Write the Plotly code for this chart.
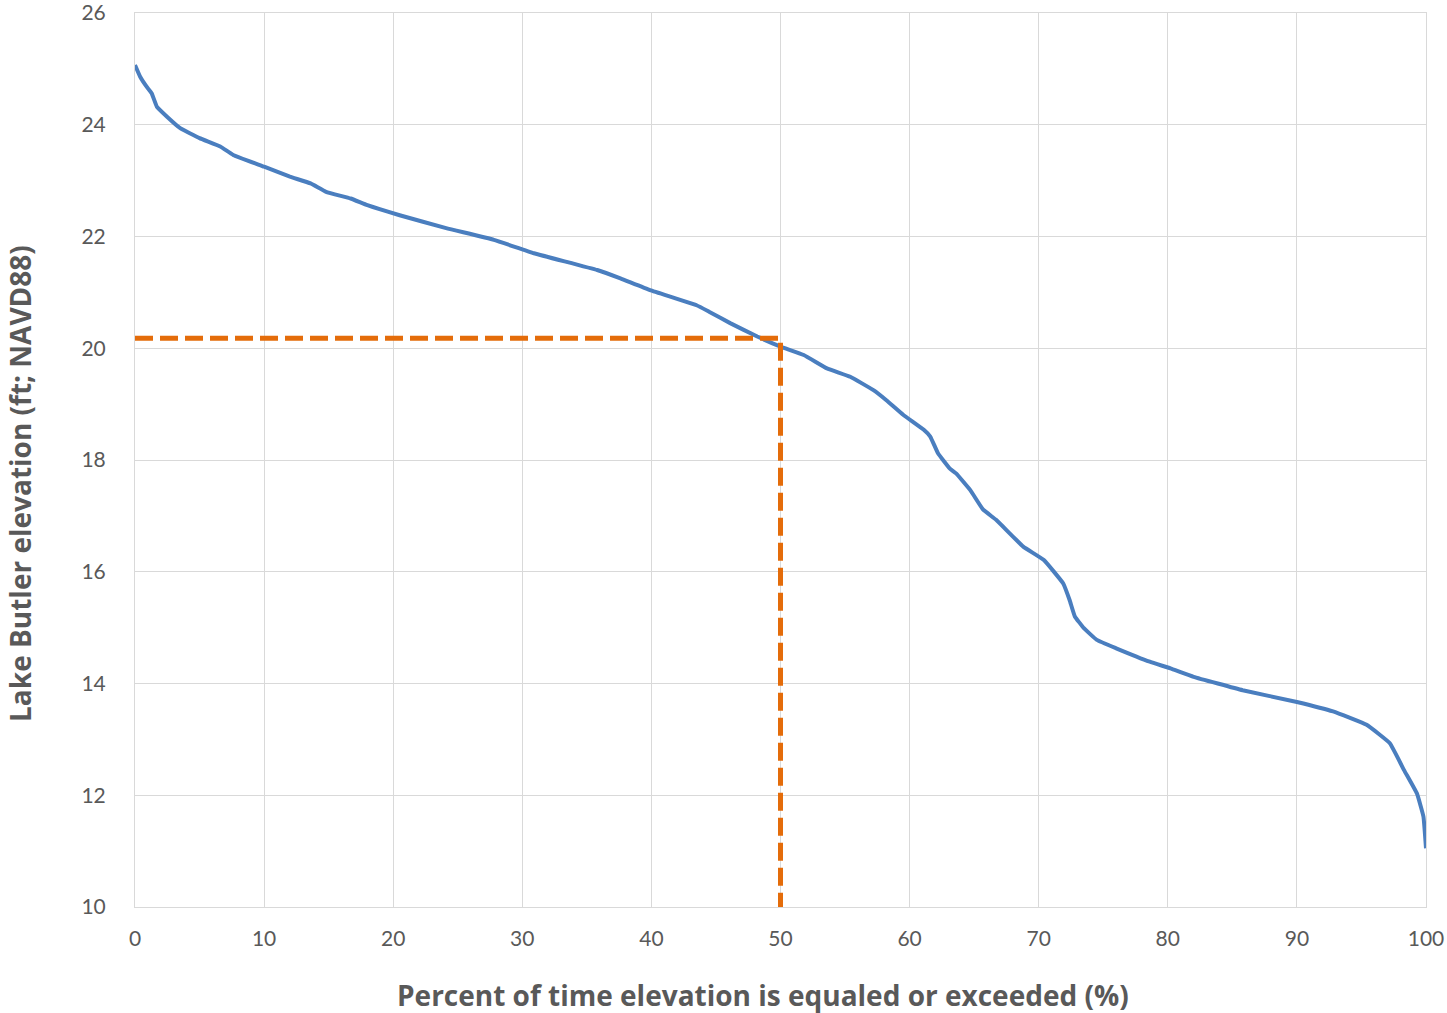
import plotly.graph_objects as go

pct = [0, 0.4, 1.0, 1.3, 1.7, 2.5, 3.5, 5.0, 6.6, 7.6, 10.0, 12.0, 13.6, 14.8, 16.7, 18.0,
       20.5, 24.1, 27.8, 30.9, 35.8, 37.6, 39.9, 43.5, 44.5, 46.1, 48.2, 50.0, 51.8, 53.6,
       55.4, 57.2, 58.2, 59.5, 61.1, 61.6, 62.2, 63.1, 63.6, 64.7, 65.7, 66.7, 68.8, 70.4,
       71.9, 72.4, 72.8, 73.5, 74.5, 76.0, 78.6, 80.2, 82.0, 85.8, 90.0, 92.8, 95.4, 97.2,
       98.3, 99.3, 99.8, 100]
elev = [25.07, 24.86, 24.65, 24.56, 24.32, 24.14, 23.94, 23.76, 23.61, 23.46, 23.25, 23.07,
        22.95, 22.80, 22.68, 22.56, 22.38, 22.15, 21.94, 21.70, 21.40, 21.25, 21.04, 20.77,
        20.65, 20.45, 20.21, 20.03, 19.88, 19.64, 19.49, 19.25, 19.07, 18.81, 18.54, 18.42,
        18.12, 17.85, 17.76, 17.46, 17.11, 16.93, 16.45, 16.21, 15.79, 15.49, 15.20, 14.99,
        14.78, 14.63, 14.39, 14.27, 14.12, 13.88, 13.67, 13.50, 13.26, 12.93, 12.45, 12.03,
        11.62, 11.05]

ref_x = [0, 50, 50]
ref_y = [20.18, 20.18, 10]

x_ticks = [0, 10, 20, 30, 40, 50, 60, 70, 80, 90, 100]
y_ticks = [10, 12, 14, 16, 18, 20, 22, 24, 26]

x_title = "Percent of time elevation is equaled or exceeded (%)"
y_title = "Lake Butler elevation (ft; NAVD88)"

fig = go.Figure()
fig.add_trace(go.Scatter(x=pct, y=elev, mode="lines",
                         line=dict(color="#4A7EBF", width=4, shape="spline", smoothing=0.3),
                         showlegend=False, hoverinfo="skip"))
fig.add_trace(go.Scatter(x=ref_x, y=ref_y, mode="lines",
                         line=dict(color="#E46C0A", width=5, dash="18px,7px"),
                         showlegend=False, hoverinfo="skip"))

tick_font = dict(family="Lato, sans-serif", size=21, color="#595959")
title_font = dict(family="'Open Sans', sans-serif", size=28, color="#595959")

fig.update_layout(
    width=1447, height=1013,
    margin=dict(l=135, r=21, t=13, b=106),
    paper_bgcolor="white", plot_bgcolor="white",
    font=dict(family="Lato, sans-serif", color="#595959"),
    annotations=[
        dict(text="<b>" + x_title + "</b>", xref="paper", yref="paper",
             x=0.4868, y=-0.0984, xanchor="center", yanchor="middle",
             showarrow=False, font=title_font),
        dict(text="<b>" + y_title + "</b>", xref="paper", yref="paper",
             x=-0.0891, y=0.4743, xanchor="center", yanchor="middle",
             textangle=-90, showarrow=False, font=title_font),
    ],
)
fig.update_xaxes(
    range=[0, 100], tickvals=x_ticks, ticktext=[str(v) for v in x_ticks],
    showgrid=True, gridcolor="#D9D9D9", gridwidth=1,
    showline=True, linecolor="#D9D9D9", linewidth=1, mirror=True,
    zeroline=False, ticks="", tickfont=tick_font,
    ticklabelstandoff=13, automargin=False, ticklabeloverflow="allow",
)
fig.update_yaxes(
    range=[10, 26], tickvals=y_ticks, ticktext=[str(v) for v in y_ticks],
    showgrid=True, gridcolor="#D9D9D9", gridwidth=1,
    showline=True, linecolor="#D9D9D9", linewidth=1, mirror=True,
    zeroline=False, ticks="", tickfont=tick_font,
    ticklabelstandoff=24, automargin=False, ticklabeloverflow="allow",
)

fig.write_html("out.html")
